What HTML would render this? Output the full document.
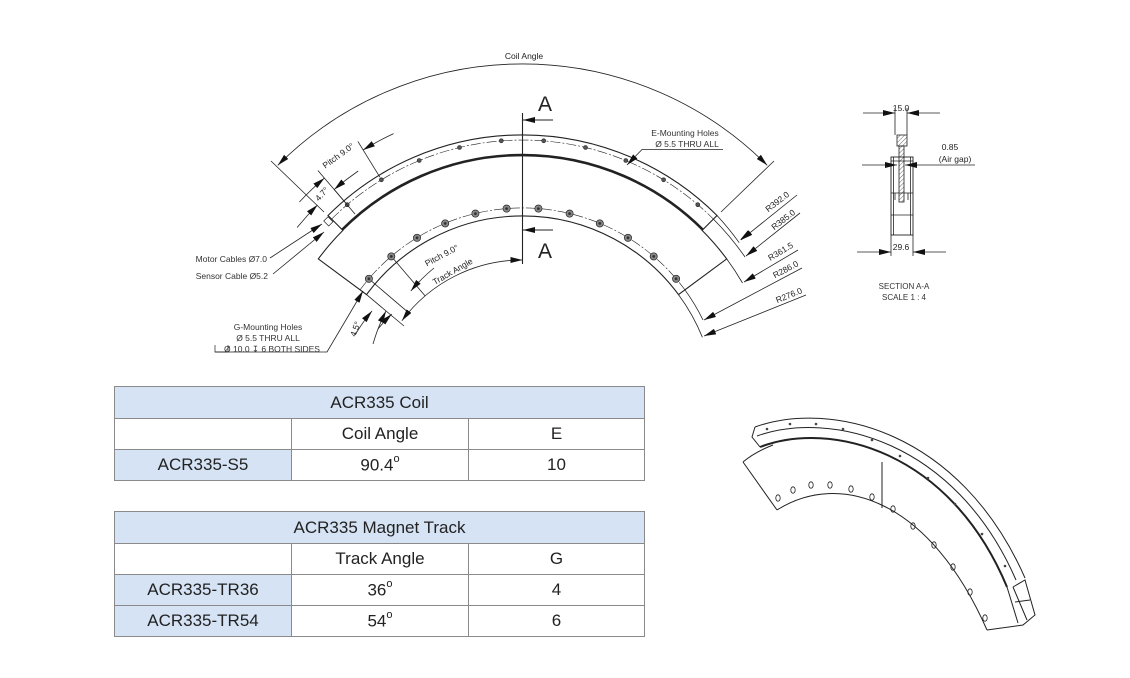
<!DOCTYPE html>
<html><head><meta charset="utf-8">
<style>
html,body{margin:0;padding:0;background:#fff;}
body{width:1130px;height:678px;position:relative;overflow:hidden;font-family:"Liberation Sans",sans-serif;}
svg{position:absolute;left:0;top:0;}
table{position:absolute;border-collapse:collapse;font-family:"Liberation Sans",sans-serif;font-size:17px;color:#222;}
td{border:1px solid #8a8a8a;text-align:center;padding:0;height:30px;}
td.h{background:#d5e3f4;}
sup{font-size:11px;position:relative;top:-2px;}
</style></head><body>
<svg width="1130" height="678" viewBox="0 0 1130 678" font-family="Liberation Sans, sans-serif" fill="none" stroke="#222" stroke-width="0.8">
<defs>
<marker id="ar" viewBox="0 0 12 6" refX="12" refY="3" markerWidth="12" markerHeight="6" markerUnits="userSpaceOnUse" orient="auto-start-reverse">
<path d="M0,0 L12,3 L0,6 Z" fill="#111" stroke="none"/></marker>
</defs>

<!-- main plan view -->
<path d="M318.3,258.9 A254,254 0 0 1 342.9,230.4 L328,215.5 A275,275 0 0 1 717,215.5 L702.1,230.4 A254,254 0 0 1 726.7,258.9 L678.5,294.6 A194,194 0 0 0 366.5,294.6 Z" stroke-width="1.1"/>
<path d="M342.2,229.7 A255,255 0 0 1 702.8,229.7" stroke-width="2.6"/>
<path d="M331.6,219.1 A270,270 0 0 1 713.4,219.1" stroke-width="0.6" stroke-dasharray="10,2,2,2"/>
<path d="M360.1,289.8 A202,202 0 0 1 684.9,289.8" stroke-width="0.6" stroke-dasharray="10,2,2,2"/>
<g fill="#555" stroke="#222" stroke-width="0.6">
<circle cx="501.3" cy="140.8" r="2"/><circle cx="543.7" cy="140.8" r="2"/>
<circle cx="459.5" cy="147.5" r="2"/><circle cx="585.5" cy="147.5" r="2"/>
<circle cx="419.2" cy="160.5" r="2"/><circle cx="625.8" cy="160.5" r="2"/>
<circle cx="381.4" cy="179.8" r="2"/><circle cx="663.6" cy="179.8" r="2"/>
<circle cx="347.2" cy="204.7" r="2"/><circle cx="697.8" cy="204.7" r="2"/>
</g>
<g fill="#888" stroke="#222" stroke-width="0.7">
<circle cx="506.6" cy="208.6" r="3.6"/><circle cx="538.4" cy="208.6" r="3.6"/>
<circle cx="475.4" cy="213.6" r="3.6"/><circle cx="569.6" cy="213.6" r="3.6"/>
<circle cx="445.2" cy="223.4" r="3.6"/><circle cx="599.8" cy="223.4" r="3.6"/>
<circle cx="417" cy="237.8" r="3.6"/><circle cx="628" cy="237.8" r="3.6"/>
<circle cx="391.3" cy="256.4" r="3.6"/><circle cx="653.7" cy="256.4" r="3.6"/>
<circle cx="368.9" cy="278.8" r="3.6"/><circle cx="676.1" cy="278.8" r="3.6"/>
</g>
<g fill="#333" stroke="none">
<circle cx="506.6" cy="208.6" r="1.4"/><circle cx="538.4" cy="208.6" r="1.4"/>
<circle cx="475.4" cy="213.6" r="1.4"/><circle cx="569.6" cy="213.6" r="1.4"/>
<circle cx="445.2" cy="223.4" r="1.4"/><circle cx="599.8" cy="223.4" r="1.4"/>
<circle cx="417" cy="237.8" r="1.4"/><circle cx="628" cy="237.8" r="1.4"/>
<circle cx="391.3" cy="256.4" r="1.4"/><circle cx="653.7" cy="256.4" r="1.4"/>
<circle cx="368.9" cy="278.8" r="1.4"/><circle cx="676.1" cy="278.8" r="1.4"/>
</g>

<!-- section line -->
<line x1="522.5" y1="113" x2="522.5" y2="264" stroke-width="1.1"/>
<line x1="553" y1="120" x2="523" y2="120" marker-end="url(#ar)" stroke-width="1"/>
<line x1="553" y1="230" x2="523" y2="230" marker-end="url(#ar)" stroke-width="1"/>
<g fill="#222" stroke="none" font-size="21"><text x="538" y="111">A</text><text x="538" y="258">A</text></g>

<!-- coil angle -->
<path d="M277.8,165.3 A346,346 0 0 1 767.2,165.3" marker-start="url(#ar)" marker-end="url(#ar)"/>
<line x1="324" y1="212" x2="271" y2="161"/>
<line x1="721" y1="212" x2="774" y2="161"/>
<text x="524" y="59" font-size="8.5" fill="#222" stroke="none" text-anchor="middle">Coil Angle</text>

<!-- coil pitch -->
<line x1="345.2" y1="202.4" x2="317.9" y2="170.5"/>
<line x1="379.9" y1="177.2" x2="357.9" y2="141.4"/>
<path d="M299.4,202 A305,305 0 0 1 324.4,178.1" marker-end="url(#ar)"/>
<path d="M393.6,133.6 A305,305 0 0 0 363.1,150" marker-end="url(#ar)"/>
<text transform="translate(340,158) rotate(-36)" font-size="8.5" fill="#222" stroke="none" text-anchor="middle">Pitch 9.0°</text>
<!-- 4.7 -->
<path d="M297.1,227.5 A290,290 0 0 1 317.5,205" marker-end="url(#ar)"/>
<path d="M358.2,171 A290,290 0 0 0 334.2,189.5" marker-end="url(#ar)"/>
<line x1="334.2" y1="189.5" x2="355" y2="214"/>
<text transform="translate(324,196) rotate(-47)" font-size="8.5" fill="#222" stroke="none" text-anchor="middle">4.7°</text>
<rect x="325" y="218" width="6" height="7" transform="rotate(-45 328 221)" stroke-width="0.7"/>

<!-- motor / sensor cables -->
<line x1="270" y1="258" x2="322" y2="224" marker-end="url(#ar)"/>
<line x1="273" y1="274" x2="324" y2="232" marker-end="url(#ar)"/>
<g font-size="8.5" fill="#333" stroke="none" text-anchor="end">
<text x="267" y="262">Motor Cables  Ø7.0</text>
<text x="268" y="279">Sensor Cable  Ø5.2</text>
</g>

<!-- track dims -->
<line x1="371.9" y1="281.4" x2="408.4" y2="312.6"/>
<line x1="393.9" y1="259.4" x2="425.1" y2="295.9"/>
<line x1="366.5" y1="294.6" x2="404" y2="326"/>
<path d="M378,329 A172,172 0 0 1 391.7,314.1" marker-end="url(#ar)"/>
<path d="M434,268 A172,172 0 0 0 410.8,291" marker-end="url(#ar)"/>
<path d="M522.5,260 A150,150 0 0 0 401.9,320.8" marker-start="url(#ar)" marker-end="url(#ar)"/>
<text transform="translate(443,258) rotate(-28)" font-size="8.5" fill="#222" stroke="none" text-anchor="middle">Pitch 9.0°</text>
<text transform="translate(454,274) rotate(-30)" font-size="8.5" fill="#222" stroke="none" text-anchor="middle">Track Angle</text>
<!-- 4.5 -->
<path d="M355,335 A185,185 0 0 1 372,311" marker-end="url(#ar)"/>
<path d="M373,344 A185,185 0 0 1 386,311" marker-end="url(#ar)"/>
<text transform="translate(358,330) rotate(-70)" font-size="8.5" fill="#222" stroke="none" text-anchor="middle">4.5°</text>

<!-- G mounting -->
<polyline points="215,352 327,352 363,291" marker-end="url(#ar)"/>
<g font-size="8.5" fill="#333" stroke="none" text-anchor="middle">
<text x="268" y="330">G-Mounting Holes</text>
<text x="268" y="341">Ø 5.5 THRU ALL</text>
<text x="272" y="352">Ø 10.0 ↧ 6 BOTH SIDES</text>
</g>
<polyline points="215,345 215,352 228,352 228,345" stroke-width="0.7"/>

<!-- E mounting -->
<polyline points="723,149.5 642,149.5 627,165" marker-end="url(#ar)"/>
<g font-size="8.5" fill="#333" stroke="none" text-anchor="middle">
<text x="685" y="136">E-Mounting Holes</text>
<text x="687" y="147">Ø 5.5 THRU ALL</text>
</g>

<!-- radius extension arcs -->
<path d="M717,215.5 A275,275 0 0 1 739.2,242.7"/>
<path d="M713.4,219.1 A270,270 0 0 1 745,257"/>
<path d="M726.7,258.9 A254,254 0 0 1 742.5,283"/>
<path d="M684.9,289.8 A202,202 0 0 1 703,320"/>
<path d="M678.5,294.6 A194,194 0 0 1 702.4,337.3"/>
<!-- radius leaders -->
<polyline points="800,195 740,240" marker-end="url(#ar)" stroke-width="0"/>
<line x1="797" y1="195" x2="741" y2="240" marker-end="url(#ar)"/>
<line x1="800" y1="213" x2="746" y2="256" marker-end="url(#ar)"/>
<line x1="798" y1="250" x2="744" y2="282" marker-end="url(#ar)"/>
<line x1="802" y1="268" x2="704" y2="320" marker-end="url(#ar)"/>
<line x1="806" y1="295" x2="704" y2="336" marker-end="url(#ar)"/>
<g font-size="8.5" fill="#222" stroke="none" text-anchor="middle">
<text transform="translate(779,204) rotate(-38)">R392.0</text>
<text transform="translate(785,222) rotate(-38)">R385.0</text>
<text transform="translate(782,254) rotate(-31)">R361.5</text>
<text transform="translate(787,272) rotate(-28)">R286.0</text>
<text transform="translate(790,298) rotate(-22)">R276.0</text>
</g>

<!-- section view -->
<line x1="863" y1="113" x2="895" y2="113" marker-end="url(#ar)"/>
<line x1="940" y1="113" x2="907" y2="113" marker-end="url(#ar)"/>
<line x1="895" y1="108" x2="895" y2="135"/><line x1="907" y1="108" x2="907" y2="135"/>
<text x="901" y="111" font-size="8.5" fill="#222" stroke="none" text-anchor="middle">15.0</text>
<defs><pattern id="hat" width="3" height="3" patternUnits="userSpaceOnUse" patternTransform="rotate(45)"><line x1="0" y1="0" x2="0" y2="3" stroke="#444" stroke-width="0.8"/></pattern></defs>
<rect x="897" y="135" width="10" height="11" fill="url(#hat)" stroke-width="0.8"/>
<rect x="899" y="146" width="5" height="56" fill="url(#hat)" stroke-width="0.8"/>
<rect x="891" y="157" width="22" height="78" stroke-width="0.9"/>
<line x1="893.5" y1="157" x2="893.5" y2="235"/><line x1="910.5" y1="157" x2="910.5" y2="235"/>
<line x1="891" y1="161" x2="913" y2="161"/><line x1="891" y1="193" x2="913" y2="193"/><line x1="891" y1="215" x2="913" y2="215"/>
<line x1="895" y1="193" x2="895" y2="200"/><line x1="908" y1="193" x2="908" y2="200"/>
<line x1="862" y1="165" x2="897" y2="165" marker-end="url(#ar)"/>
<line x1="975" y1="165" x2="905" y2="165" marker-end="url(#ar)"/>
<text x="950" y="150" font-size="8.5" fill="#222" stroke="none" text-anchor="middle">0.85</text>
<text x="955" y="162" font-size="8.5" fill="#222" stroke="none" text-anchor="middle">(Air gap)</text>
<line x1="891" y1="235" x2="891" y2="256"/><line x1="913" y1="235" x2="913" y2="256"/>
<line x1="857" y1="252" x2="891" y2="252" marker-end="url(#ar)"/>
<line x1="946" y1="252" x2="913" y2="252" marker-end="url(#ar)"/>
<text x="901" y="250" font-size="8.5" fill="#222" stroke="none" text-anchor="middle">29.6</text>
<text x="904" y="289" font-size="8" fill="#333" stroke="none" text-anchor="middle">SECTION A-A</text>
<text x="904" y="300" font-size="8" fill="#333" stroke="none" text-anchor="middle">SCALE 1 : 4</text>

<!-- 3D view -->
<g stroke-width="1">
<path d="M755,427 C830,400 960,430 1025,578"/>
<path d="M757,436 C830,410 955,440 1016,580"/>
<path d="M760,447 C830,420 950,450 1007,587" stroke-width="2"/>
<path d="M755,427 L752,437 L760,447"/>
<path d="M743,462 Q755,452 773,445"/>
<path d="M743,462 L777,510"/>
<path d="M777,510 C840,470 930,500 987,630"/>
<path d="M987,630 L1023,625 L1035,615 L1025,580 L1013,587"/>
<path d="M1007,587 L1018,623"/><path d="M1013,587 L1027,620"/>
<line x1="1015" y1="602" x2="1030" y2="600"/>
<line x1="882" y1="462" x2="882" y2="508"/>
</g>
<g stroke-width="0.8">
<ellipse cx="778" cy="498" rx="2.2" ry="3.2"/><ellipse cx="793" cy="490" rx="2.2" ry="3.2"/>
<ellipse cx="811" cy="485" rx="2.2" ry="3.2"/><ellipse cx="830" cy="485" rx="2.2" ry="3.2"/>
<ellipse cx="851" cy="489" rx="2.2" ry="3.2"/><ellipse cx="872" cy="497" rx="2.2" ry="3.2"/>
<ellipse cx="893" cy="509" rx="2.2" ry="3.2"/><ellipse cx="913" cy="526" rx="2.2" ry="3.2"/>
<ellipse cx="934" cy="545" rx="2.2" ry="3.2"/><ellipse cx="953" cy="567" rx="2.2" ry="3.2"/>
<ellipse cx="970" cy="592" rx="2.2" ry="3.2"/><ellipse cx="985" cy="618" rx="2.2" ry="3.2"/>
</g>
<g fill="#444" stroke="none">
<circle cx="767" cy="429" r="1.3"/><circle cx="790" cy="424" r="1.3"/><circle cx="816" cy="424" r="1.3"/>
<circle cx="843" cy="429" r="1.3"/><circle cx="872" cy="440" r="1.3"/><circle cx="900" cy="456" r="1.3"/>
<circle cx="928" cy="478" r="1.3"/><circle cx="955" cy="504" r="1.3"/><circle cx="982" cy="534" r="1.3"/>
<circle cx="1005" cy="566" r="1.3"/>
</g>
</svg>

<table style="left:114px;top:386px;width:531px;">
<tr><td class="h" colspan="3" style="height:31px;">ACR335 Coil</td></tr>
<tr><td style="width:176px;"></td><td style="width:176px;">Coil Angle</td><td>E</td></tr>
<tr><td class="h">ACR335-S5</td><td>90.4<sup>o</sup></td><td>10</td></tr>
</table>

<table style="left:114px;top:511px;width:531px;">
<tr><td class="h" colspan="3" style="height:31px;">ACR335 Magnet Track</td></tr>
<tr><td style="width:176px;"></td><td style="width:176px;">Track Angle</td><td>G</td></tr>
<tr><td class="h">ACR335-TR36</td><td>36<sup>o</sup></td><td>4</td></tr>
<tr><td class="h">ACR335-TR54</td><td>54<sup>o</sup></td><td>6</td></tr>
</table>
</body></html>
